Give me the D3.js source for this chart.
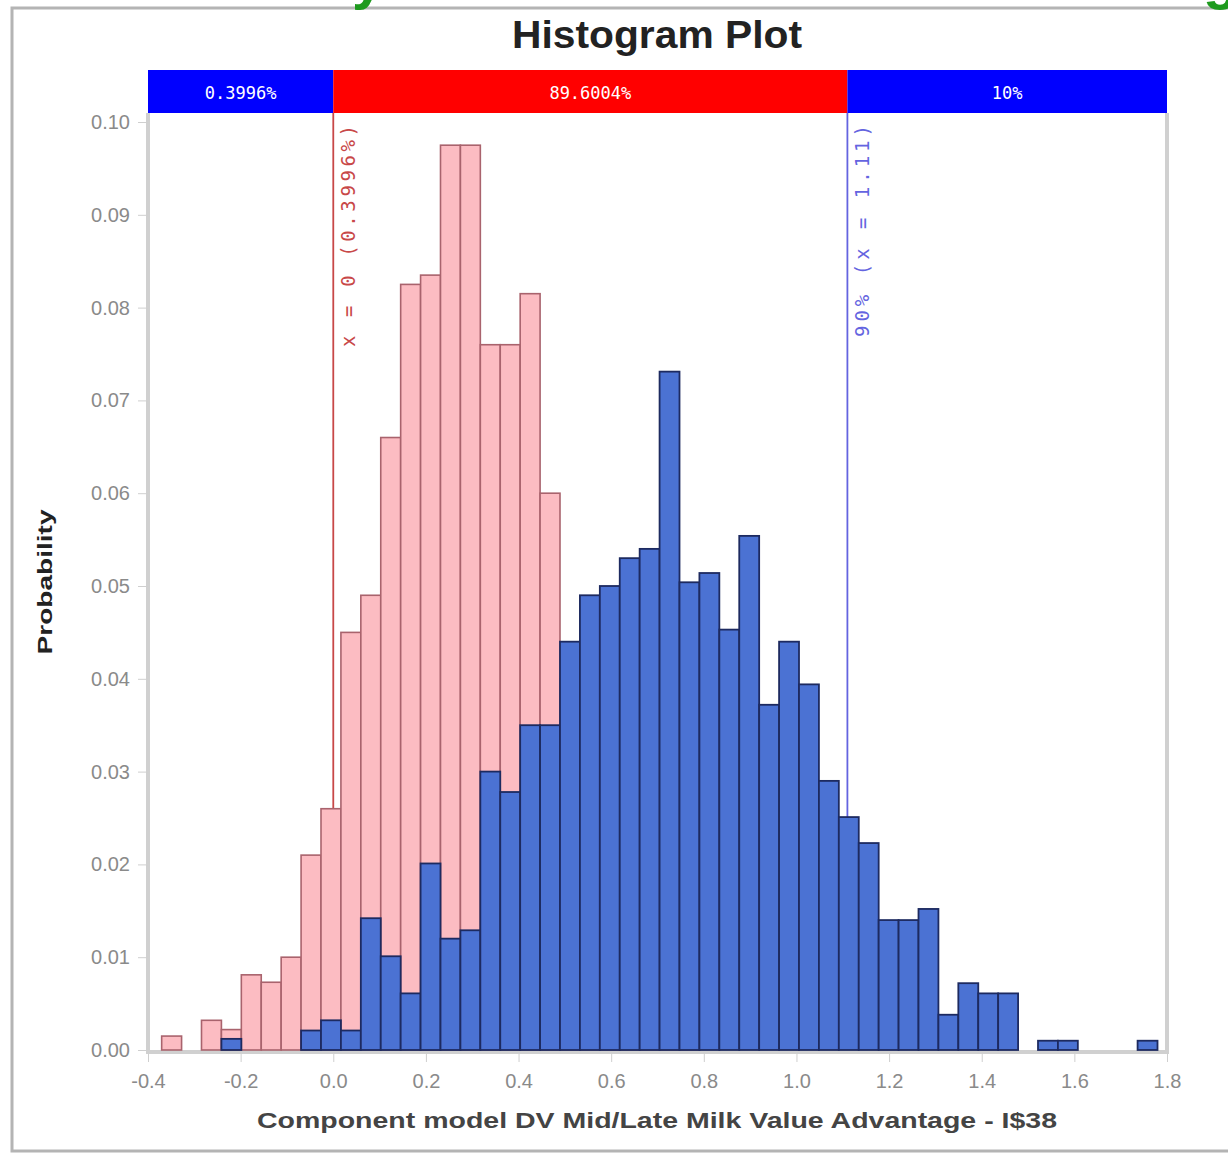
<!DOCTYPE html>
<html>
<head>
<meta charset="utf-8">
<script src="https://cdn.jsdelivr.net/npm/d3@7"></script>
<style>
  body { margin: 0; background: #fff; }
  svg { display: block; }
</style>
</head>
<body>
<svg width="1228" height="1153"></svg>
<script>
const width = 1228,
  height = 1153;

// left edge of each histogram bin (same bins for both series)
const binStart = [
  -0.3705, -0.3275, -0.2845, -0.2415, -0.1985, -0.1555, -0.1125, -0.0695,
  -0.0265, 0.0165, 0.0595, 0.1025, 0.1455, 0.1885, 0.2315, 0.2745,
  0.3175, 0.3605, 0.4035, 0.4465, 0.4895, 0.5325, 0.5755, 0.6185,
  0.6615, 0.7045, 0.7475, 0.7905, 0.8335, 0.8765, 0.9195, 0.9625,
  1.0055, 1.0485, 1.0915, 1.1345, 1.1775, 1.2205, 1.2635, 1.3065,
  1.3495, 1.3925, 1.4355, 1.4785, 1.5215, 1.5645, 1.6075, 1.6505,
  1.6935, 1.7365
];
const binWidth = 0.043;

// pink series (drawn behind)
const pinkProb = [
  0.0015, 0, 0.0032, 0.0022, 0.0081, 0.0073, 0.0100, 0.0210,
  0.0260, 0.0450, 0.0490, 0.0660, 0.0825, 0.0835, 0.0975, 0.0975,
  0.0760, 0.0760, 0.0815, 0.0600, 0.0400, 0.0300, 0.0220, 0.0150,
  0.0090, 0.0050, 0.0020, 0, 0, 0, 0, 0,
  0, 0, 0, 0, 0, 0, 0, 0,
  0, 0, 0, 0, 0, 0, 0, 0,
  0, 0
];

// blue series (drawn on top)
const blueProb = [
  0, 0, 0, 0.0012, 0, 0, 0, 0.0021,
  0.0032, 0.0021, 0.0142, 0.0101, 0.0061, 0.0201, 0.0120, 0.0129,
  0.0300, 0.0278, 0.0350, 0.0350, 0.0440, 0.0490, 0.0500, 0.0530,
  0.0540, 0.0731, 0.0504, 0.0514, 0.0453, 0.0554, 0.0372, 0.0440,
  0.0394, 0.0290, 0.0251, 0.0223, 0.0140, 0.0140, 0.0152, 0.0038,
  0.0072, 0.0061, 0.0061, 0, 0.0010, 0.0010, 0, 0,
  0, 0.0010
];

// delimiters and the percentages shown in the top band
const markerValues = [0, 1.11];
const markerLabels = ["x = 0 (0.3996%)", "90% (x = 1.11)"];
const bandLabels = ["0.3996%", "89.6004%", "10%"];

const xTicks = [-0.4, -0.2, 0.0, 0.2, 0.4, 0.6, 0.8, 1.0, 1.2, 1.4, 1.6, 1.8];
const yTicks = [0, 0.01, 0.02, 0.03, 0.04, 0.05, 0.06, 0.07, 0.08, 0.09, 0.1];

const svg = d3.select("svg");

const x = d3.scaleLinear().domain([-0.4, 1.8]).range([148, 1167]);
const y = d3.scaleLinear().domain([0, 0.1]).range([1050, 122]);

const plotTop = 113,
  plotBottom = y(0);

// outer frame
svg.append("rect")
  .attr("x", 12).attr("y", 8)
  .attr("width", width).attr("height", 1143)
  .attr("fill", "#fff")
  .attr("stroke", "#b4b4b4")
  .attr("stroke-width", 3);

// bits of green heading cut off at the top of the picture
svg.append("g")
  .attr("fill", "#1e9a1e")
  .attr("font-family", "Liberation Sans, Arial, sans-serif")
  .attr("font-weight", "bold")
  .attr("font-size", 58)
  .selectAll("text")
  .data([{ t: "y", x: 352 }, { t: "g", x: 1203 }])
  .join("text")
  .attr("x", d => d.x)
  .attr("y", -2)
  .text(d => d.t);

// title
svg.append("text")
  .attr("x", 657).attr("y", 48)
  .attr("text-anchor", "middle")
  .attr("font-family", "Liberation Sans Narrow, Arial Narrow, Liberation Sans, sans-serif")
  .attr("font-weight", "bold")
  .attr("font-size", 38)
  .attr("textLength", 290)
  .attr("lengthAdjust", "spacingAndGlyphs")
  .attr("fill", "#222")
  .text("Histogram Plot");

// top band split by the delimiters
const bandEdges = [x.domain()[0], ...markerValues, x.domain()[1]];
const bandColors = ["#0000ff", "#ff0000", "#0000ff"];
const band = svg.append("g");
bandLabels.forEach((lab, i) => {
  band.append("rect")
    .attr("x", x(bandEdges[i]))
    .attr("y", 70)
    .attr("width", x(bandEdges[i + 1]) - x(bandEdges[i]))
    .attr("height", plotTop - 70)
    .attr("fill", bandColors[i]);
  band.append("text")
    .attr("x", (x(bandEdges[i]) + x(bandEdges[i + 1])) / 2)
    .attr("y", 99)
    .attr("text-anchor", "middle")
    .attr("font-family", "DejaVu Sans Mono, monospace")
    .attr("font-size", 17)
    .attr("fill", "#fff")
    .text(lab);
});

// plot frame (light grey)
svg.append("path")
  .attr("d", `M${x(-0.4)},${plotTop}V${plotBottom + 2}H${x(1.8)}V${plotTop}`)
  .attr("fill", "none")
  .attr("stroke", "#d0d0d0")
  .attr("stroke-width", 4);

// delimiter lines
const markerColors = ["#c84848", "#6464e0"];
svg.append("g")
  .selectAll("line")
  .data(markerValues)
  .join("line")
  .attr("x1", d => x(d)).attr("x2", d => x(d))
  .attr("y1", plotTop).attr("y2", plotBottom)
  .attr("stroke", (d, i) => markerColors[i])
  .attr("stroke-width", 1.8);

svg.append("g")
  .selectAll("text")
  .data(markerValues)
  .join("text")
  .attr("transform", d => `translate(${x(d) + 22},${plotTop + 12}) rotate(-90)`)
  .attr("text-anchor", "end")
  .attr("font-family", "DejaVu Sans Mono, monospace")
  .attr("font-size", 19)
  .attr("textLength", (d, i) => (i === 0 ? 222 : 212))
  .attr("lengthAdjust", "spacing")
  .attr("fill", (d, i) => markerColors[i])
  .text((d, i) => markerLabels[i]);

// histogram bars
const bins = binStart.map((b, i) => ({ x0: b, pink: pinkProb[i], blue: blueProb[i] }));

svg.append("g")
  .selectAll("rect")
  .data(bins.filter(d => d.pink > 0))
  .join("rect")
  .attr("x", d => x(d.x0))
  .attr("y", d => y(d.pink))
  .attr("width", d => x(d.x0 + binWidth) - x(d.x0))
  .attr("height", d => y(0) - y(d.pink))
  .attr("fill", "#fcbcc2")
  .attr("stroke", "#a9636d")
  .attr("stroke-width", 1.6);

svg.append("g")
  .selectAll("rect")
  .data(bins.filter(d => d.blue > 0))
  .join("rect")
  .attr("x", d => x(d.x0))
  .attr("y", d => y(d.blue))
  .attr("width", d => x(d.x0 + binWidth) - x(d.x0))
  .attr("height", d => y(0) - y(d.blue))
  .attr("fill", "#4b72d3")
  .attr("stroke", "#1d2a60")
  .attr("stroke-width", 1.8);

// axes
const yAxis = svg.append("g")
  .attr("transform", `translate(${x(-0.4)},0)`)
  .call(d3.axisLeft(y).tickValues(yTicks).tickFormat(d => d.toFixed(2)).tickSize(10).tickPadding(8));
yAxis.select(".domain").remove();
yAxis.selectAll("line").attr("stroke", "#cfcfcf");
yAxis.selectAll("text")
  .attr("font-family", "Liberation Sans, Arial, sans-serif")
  .attr("font-size", 20)
  .attr("fill", "#8a8a8a");

const xAxis = svg.append("g")
  .attr("transform", `translate(0,${plotBottom + 2})`)
  .call(d3.axisBottom(x).tickValues(xTicks).tickFormat(d => d.toFixed(1)).tickSize(10).tickPadding(12));
xAxis.select(".domain").remove();
xAxis.selectAll("line").attr("stroke", "#cfcfcf");
xAxis.selectAll("text")
  .attr("font-family", "Liberation Sans, Arial, sans-serif")
  .attr("font-size", 20)
  .attr("fill", "#8a8a8a");

// axis titles
svg.append("text")
  .attr("x", 657).attr("y", 1128)
  .attr("text-anchor", "middle")
  .attr("font-family", "Liberation Sans, Arial, sans-serif")
  .attr("font-weight", "bold")
  .attr("font-size", 22)
  .attr("textLength", 800)
  .attr("lengthAdjust", "spacingAndGlyphs")
  .attr("fill", "#444")
  .text("Component model DV Mid/Late Milk Value Advantage - I$38");

svg.append("text")
  .attr("transform", "translate(52,582) rotate(-90)")
  .attr("text-anchor", "middle")
  .attr("font-family", "Liberation Sans, Arial, sans-serif")
  .attr("font-weight", "bold")
  .attr("font-size", 20)
  .attr("textLength", 145)
  .attr("lengthAdjust", "spacingAndGlyphs")
  .attr("fill", "#222")
  .text("Probability");
</script>
</body>
</html>
